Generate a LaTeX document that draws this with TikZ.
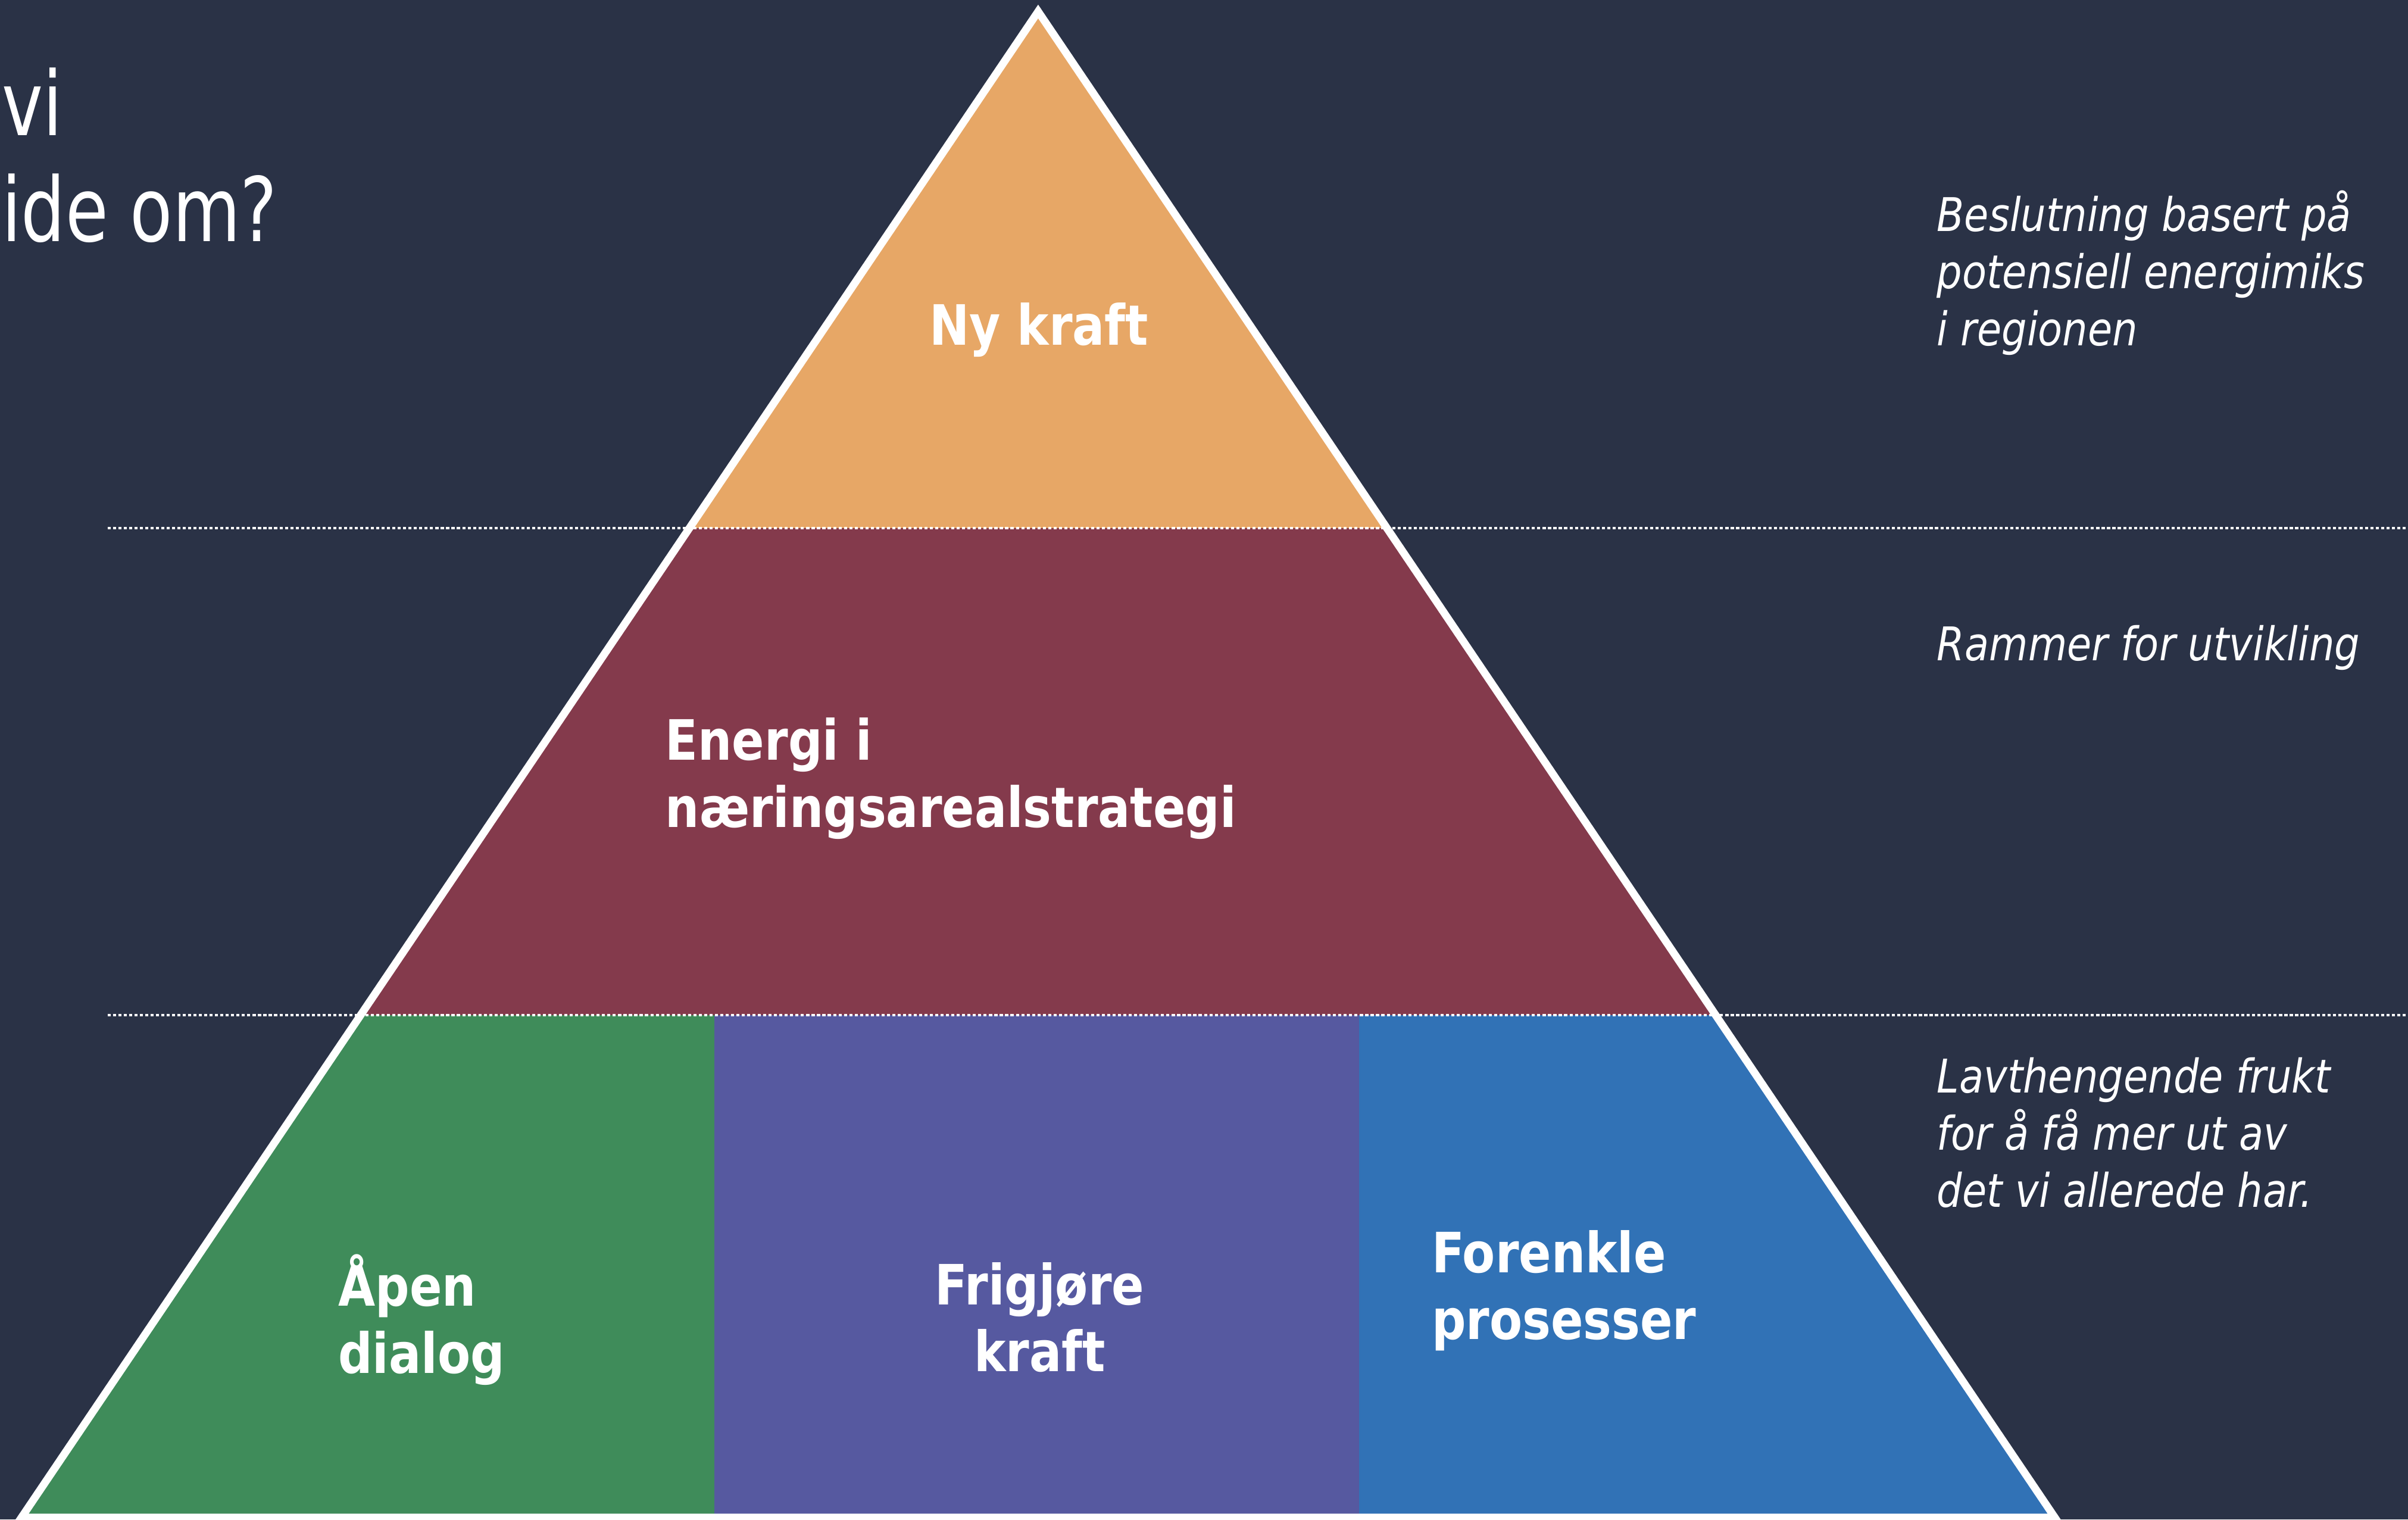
\documentclass[tikz,border=0pt]{standalone}
\usepackage{fontspec}
\setmainfont{DejaVu Sans}[FakeStretch=0.86]
\newfontfamily\titlefont{DejaVu Sans}[FakeStretch=0.78]
\usepackage{xcolor}
\usetikzlibrary{positioning}

\definecolor{slidebg}{HTML}{2A3246}
\definecolor{topcol}{HTML}{E7A766}
\definecolor{midcol}{HTML}{843A4C}
\definecolor{greencol}{HTML}{3F8C5A}
\definecolor{purplecol}{HTML}{5659A0}
\definecolor{bluecol}{HTML}{3172B6}

\begin{document}
\begin{tikzpicture}[
    x=0.2mm, y=-0.2mm,
    layer/.style={text=white,inner sep=0pt,font=\fontsize{20.6}{24.8}\selectfont\bfseries},
    note/.style={text=white,inner sep=0pt,align=left,anchor=base west,font=\fontsize{17.2}{21.2}\selectfont\itshape},
    title/.style={text=white,inner sep=0pt,anchor=base west,font=\fontsize{33}{39}\selectfont\titlefont},
    guide/.style={white,line width=0.3mm,dash pattern=on 0.4mm off 0.3mm}
  ]
    \fill[slidebg] (0,0) rectangle (1568,989.3);
    \useasboundingbox (0,0) rectangle (1568,989.3);

    \coordinate (top) at (676,7.5);
    \coordinate (bl) at (14,988);
    \coordinate (br) at (1338,988);

    % pyramid layers
    \begin{scope}
      \clip (top) -- (bl) -- (br) -- cycle;
      \fill[topcol] (0,0) rectangle (1568,344);
      \fill[midcol] (0,344) rectangle (1568,661);
      \fill[greencol] (0,661) rectangle (465,989.3);
      \fill[purplecol] (465,661) rectangle (885,989.3);
      \fill[bluecol] (885,661) rectangle (1568,989.3);
    \end{scope}
    \draw[white,line width=1mm,line join=miter] (top) -- (bl) -- (br) -- cycle;

    \draw[guide] (70,344) -- (1568,344);
    \draw[guide] (70,661) -- (1568,661);

    % base anchor = baseline of the last line
    \node[layer,anchor=base] (nykraft) at (676.5,224.8) {Ny kraft};
    \node[layer,anchor=base west,align=left] (energi) at (433,538.5) {Energi i\\næringsarealstrategi};
    \node[layer,anchor=base west,align=left] (apen) at (220,894) {Åpen\\dialog};
    \node[layer,anchor=base,align=center] (frigjore) at (677,893) {Frigjøre\\kraft};
    \node[layer,anchor=base west,align=left] (forenkle) at (932,872) {Forenkle\\prosesser};

    \node[note] (beslutning) at (1261,225) {Beslutning basert på\\potensiell energimiks\\i regionen};
    \node[note] (rammer) at (1261,430) {Rammer for utvikling};
    \node[note] (lavt) at (1261,786) {Lavthengende frukt\\for å få mer ut av\\det vi allerede har.};

    \node[title] (tittelA) at (1,88) {vi};
    \node[title] (tittelB) at (1,157) {ide om?};
  \end{tikzpicture}
\end{document}
